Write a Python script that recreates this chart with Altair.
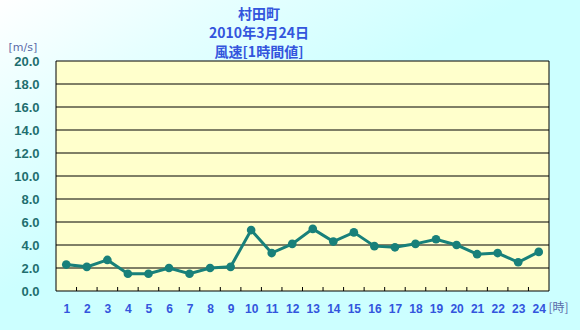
import altair as alt
import pandas as pd

hours = list(range(1, 25))
speed = [2.3, 2.1, 2.7, 1.5, 1.5, 2.0, 1.5, 2.0, 2.1, 5.3, 3.3, 4.1,
         5.4, 4.3, 5.1, 3.9, 3.8, 4.1, 4.5, 4.0, 3.2, 3.3, 2.5, 3.4]
y_ticks = [0, 2, 4, 6, 8, 10, 12, 14, 16, 18, 20]
grid_vals = [2, 4, 6, 8, 10, 12, 14, 16, 18]
x_tick_pos = [1.5, 2.5, 3.5, 4.5, 5.5, 6.5, 7.5, 8.5, 9.5, 10.5, 11.5, 12.5,
              13.5, 14.5, 15.5, 16.5, 17.5, 18.5, 19.5, 20.5, 21.5, 22.5, 23.5]
title_lines = ["村田町", "2010年3月24日", "風速[1時間値]"]

W, H = 493, 230
PL, PT, PR, PB = 56, 61, 31, 39
TEAL = "#18807a"
BLUE = "#3355dd"
UNIT = "#5a6aa8"

df = pd.DataFrame({"hour": hours, "speed": speed})
one = pd.DataFrame({"k": [0]})

xscale = alt.Scale(domain=[0.5, 24.5], nice=False, zero=False)
yscale = alt.Scale(domain=[0, 20], nice=False)

xaxis = alt.Axis(values=hours, ticks=False, domain=False, grid=False, labelFont="Liberation Sans",
                 labelFontSize=12, labelFontWeight="bold", labelColor=BLUE, labelPadding=12,
                 labelFlush=False, title="[時]", titleAngle=0, titleX=W - 1, titleY=16,
                 titleAlign="left", titleBaseline="middle", titleFont="Noto Sans CJK JP",
                 titleFontSize=12, titleFontWeight="normal", titleColor=UNIT, zindex=1)
yaxis = alt.Axis(values=y_ticks, format=".1f", ticks=False, domain=False, grid=False,
                 labelFont="Liberation Sans", labelFontSize=13, labelFontWeight="bold",
                 labelColor="#1f6f6f", labelPadding=17, labelFlush=False,
                 title="[m/s]", titleAngle=0, titleX=-PL + 8, titleY=-14, titleAlign="left",
                 titleBaseline="middle", titleFont="DejaVu Sans", titleFontSize=11,
                 titleFontWeight="normal", titleColor=UNIT, zindex=1)

bg = alt.Chart(one).mark_rect(
    fill=alt.LinearGradient(
        gradient="linear", x1=0, y1=0, x2=1, y2=1,
        stops=[alt.GradientStop(color="#ffffff", offset=0),
               alt.GradientStop(color="#e6ffff", offset=0.2),
               alt.GradientStop(color="#ccffff", offset=0.45),
               alt.GradientStop(color="#ccffff", offset=1)]),
    clip=False,
).encode(x=alt.value(-PL), x2=alt.value(W + PR), y=alt.value(-PT), y2=alt.value(H + PB))

panel = alt.Chart(one).mark_rect(fill="#ffffcc", stroke="black", strokeWidth=1).encode(
    x=alt.value(0), x2=alt.value(W), y=alt.value(0), y2=alt.value(H))

grid = alt.Chart(pd.DataFrame({"g": grid_vals})).mark_rule(color="black", strokeWidth=1).encode(
    y=alt.Y("g:Q", scale=yscale, axis=yaxis))

ticks = alt.Chart(pd.DataFrame({"t": x_tick_pos})).mark_rule(color="black", strokeWidth=1).encode(
    x=alt.X("t:Q", scale=xscale, axis=xaxis), y=alt.value(H - 4), y2=alt.value(H))

line = alt.Chart(df).mark_line(color=TEAL, strokeWidth=3).encode(
    x=alt.X("hour:Q", scale=xscale, axis=xaxis),
    y=alt.Y("speed:Q", scale=yscale, axis=yaxis))
pts = alt.Chart(df).mark_circle(color=TEAL, size=75, opacity=1).encode(
    x=alt.X("hour:Q", scale=xscale, axis=xaxis), y=alt.Y("speed:Q", scale=yscale, axis=yaxis))

title = alt.Chart(one).mark_text(
    text=title_lines, font="Noto Sans CJK JP", fontSize=14, fontWeight="bold",
    color=BLUE, lineHeight=19, baseline="top", align="center").encode(
    x=alt.value(259 - PL), y=alt.value(8 - PT))

chart = alt.layer(bg, panel, grid, ticks, line, pts, title).properties(
    width=W, height=H,
    autosize=alt.AutoSizeParams(type="none"),
    padding={"left": PL, "top": PT, "right": PR, "bottom": PB},
).configure_view(stroke=None)

chart.save("out.html", embed_options={"renderer": "svg", "actions": False})
